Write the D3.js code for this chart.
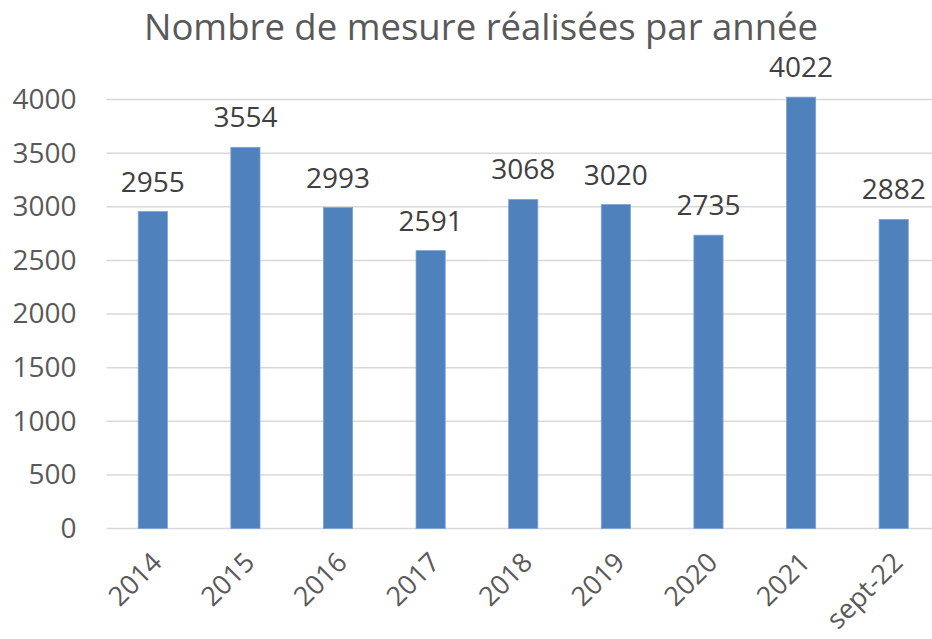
<!DOCTYPE html>
<html>
<head>
<meta charset="utf-8">
<script src="https://cdn.jsdelivr.net/npm/d3@7"></script>
<style>
  body { margin: 0; background: #fff; }
  svg { display: block; font-family: "Open Sans", sans-serif; }
</style>
</head>
<body>
<svg id="drawing_region"></svg>
<script>
const categories = ['2014', '2015', '2016', '2017', '2018', '2019', '2020', '2021', 'sept-22'];
const values = [2955, 3554, 2993, 2591, 3068, 3020, 2735, 4022, 2882];
const yticks = [0, 500, 1000, 1500, 2000, 2500, 3000, 3500, 4000];
const title = 'Nombre de mesure réalisées par année';

const width = 932, height = 639;
const margin = {top: 99.5, right: -8, bottom: 110.5, left: 106.5};
const inner_width = width - margin.left - margin.right;
const inner_height = height - margin.top - margin.bottom;

const svg = d3.select('#drawing_region')
    .attr('width', width)
    .attr('height', height);

const chart = svg.append('g')
    .attr('transform', `translate(${margin.left}, ${margin.top})`);

const xscale = d3.scaleBand()
    .domain(categories)
    .range([0, inner_width])
    .paddingInner(0.685)
    .paddingOuter(0.3425);

const yscale = d3.scaleLinear()
    .domain([0, 4000])
    .range([inner_height, 0]);

// gridlines
chart.selectAll('.grid')
    .data(yticks)
    .enter()
    .append('line')
    .attr('x1', 0)
    .attr('x2', inner_width)
    .attr('y1', d => yscale(d))
    .attr('y2', d => yscale(d))
    .attr('stroke', '#d9d9d9')
    .attr('stroke-width', 1.5);

// y axis labels
const yaxis = d3.axisLeft(yscale).tickValues(yticks).tickFormat(d3.format('d')).tickSize(0).tickPadding(30);
chart.append('g')
    .call(yaxis)
    .call(g => g.select('.domain').remove())
    .selectAll('text')
    .attr('font-family', '"Open Sans", sans-serif')
    .attr('font-size', 28)
    .attr('fill', '#595959');

// bars
chart.selectAll('rect')
    .data(values)
    .enter()
    .append('rect')
    .attr('x', (d, i) => xscale(categories[i]))
    .attr('y', d => yscale(d))
    .attr('width', xscale.bandwidth())
    .attr('height', d => inner_height - yscale(d))
    .attr('fill', '#4f81bd')
    .attr('stroke', '#7da2d2')
    .attr('stroke-width', 0.8);

// data labels
chart.selectAll('.val')
    .data(values)
    .enter()
    .append('text')
    .attr('x', (d, i) => xscale(categories[i]) + xscale.bandwidth() / 2)
    .attr('y', d => yscale(d) - 20)
    .attr('text-anchor', 'middle')
    .attr('font-size', 28)
    .attr('fill', '#404040')
    .text(d => d);

// x axis labels
const xaxis = d3.axisBottom(xscale).tickSize(0).tickPadding(0);
chart.append('g')
    .attr('transform', `translate(0, ${inner_height})`)
    .call(xaxis)
    .call(g => g.select('.domain').remove())
    .selectAll('text')
    .attr('font-family', '"Open Sans", sans-serif')
    .attr('font-size', 27)
    .attr('fill', '#595959')
    .attr('text-anchor', 'end')
    .attr('dy', '0.35em')
    .attr('transform', 'translate(4, 29) rotate(-45)');

// title
svg.append('text')
    .attr('x', 481)
    .attr('y', 40)
    .attr('text-anchor', 'middle')
    .attr('font-size', 36.5)
    .attr('fill', '#595959')
    .text(title);
</script>
</body>
</html>
